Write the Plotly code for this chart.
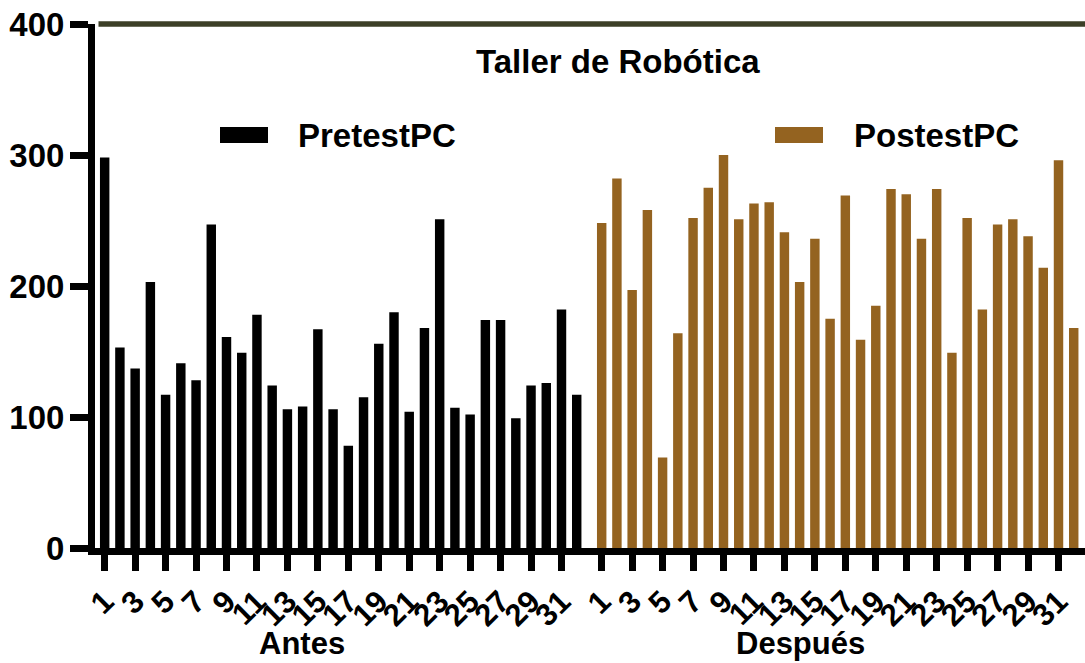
import plotly.graph_objects as go

# ---- data ----
students = list(range(1, 33))
pretest = [298, 153, 137, 203, 117, 141, 128, 247, 161, 149, 178, 124, 106, 108, 167, 106,
           78, 115, 156, 180, 104, 168, 251, 107, 102, 174, 174, 99, 124, 126, 182, 117]
postest = [248, 282, 197, 258, 69, 164, 252, 275, 300, 251, 263, 264, 241, 203, 236, 175,
           269, 159, 185, 274, 270, 236, 274, 149, 252, 182, 247, 251, 238, 214, 296, 168]
series_names = ["PretestPC", "PostestPC"]
group_labels = ["Antes", "Después"]
title_text = "Taller de Robótica"
y_ticks = [0, 100, 200, 300, 400]

# ---- layout helpers ----
GROUP_OFFSET = 32.64
pre_x = [s for s in students]
post_x = [s + GROUP_OFFSET for s in students]
odd = [i for i, s in enumerate(students) if s % 2 == 1]
tickvals = [pre_x[i] for i in odd] + [post_x[i] for i in odd]
ticktext = [str(students[i]) for i in odd] * 2

BLACK = "#000000"
BROWN = "#946320"
OLIVE = "#3c3f27"
FONT = "Liberation Sans, Arial, sans-serif"

fig = go.Figure()
fig.add_trace(go.Bar(x=pre_x, y=pretest, width=0.62, name=series_names[0],
                     marker=dict(color=BLACK, line=dict(width=0))))
fig.add_trace(go.Bar(x=post_x, y=postest, width=0.62, name=series_names[1],
                     marker=dict(color=BROWN, line=dict(width=0))))

W, H = 1085, 663
ML, MR, MT, MB = 95, 0, 24, 115
pw, ph = W - ML - MR, H - MT - MB


def px(xp):
    return (xp - ML) / pw


def py(yp):
    return (H - MB - yp) / ph


fig.update_layout(
    width=W, height=H,
    margin=dict(l=ML, r=MR, t=MT, b=MB, autoexpand=False),
    paper_bgcolor="white", plot_bgcolor="white",
    showlegend=False,
    font=dict(family=FONT, color=BLACK, size=28, weight="bold"),
    xaxis=dict(
        range=[1 - 0.636, 32 + GROUP_OFFSET + 0.74],
        automargin=False,
        showgrid=False, zeroline=False,
        showline=True, linecolor=BLACK, linewidth=7,
        ticks="outside", ticklen=16, tickwidth=7, tickcolor=BLACK,
        tickmode="array", tickvals=tickvals, ticktext=ticktext,
        tickangle=-45,
        tickfont=dict(family=FONT, size=31, color=BLACK, weight="bold"),
    ),
    yaxis=dict(
        range=[0, 400],
        automargin=False,
        showgrid=False, zeroline=False,
        showline=True, linecolor=BLACK, linewidth=7,
        ticks="outside", ticklen=18, tickwidth=7, tickcolor=BLACK,
        tickmode="array", tickvals=y_ticks,
        ticklabelstandoff=-1,
        tickfont=dict(family=FONT, size=33, color=BLACK, weight="bold"),
    ),
)

shapes = [
    # top reference line at 400
    dict(type="line", xref="paper", yref="paper", x0=3.5 / pw, x1=1, y0=1, y1=1,
         line=dict(color=OLIVE, width=5.5)),
    # legend swatches
    dict(type="rect", xref="paper", yref="paper", x0=px(220), x1=px(268), y0=py(143), y1=py(127),
         fillcolor=BLACK, line=dict(width=0)),
    dict(type="rect", xref="paper", yref="paper", x0=px(775), x1=px(823), y0=py(143), y1=py(127),
         fillcolor=BROWN, line=dict(width=0)),
]
fig.update_layout(shapes=shapes)

ann_font = dict(family=FONT, size=33, color=BLACK, weight="bold")
grp_font = dict(family=FONT, size=31, color=BLACK, weight="bold")
annotations = [
    dict(text=title_text, xref="paper", yref="paper", x=px(618), y=py(62),
         xanchor="center", yanchor="middle", showarrow=False, font=ann_font),
    dict(text=series_names[0], xref="paper", yref="paper", x=px(296), y=py(135),
         xanchor="left", yanchor="middle", showarrow=False, font=ann_font),
    dict(text=series_names[1], xref="paper", yref="paper", x=px(852), y=py(135),
         xanchor="left", yanchor="middle", showarrow=False, font=ann_font),
    dict(text=group_labels[0], xref="paper", yref="paper", x=px(302), y=py(643),
         xanchor="center", yanchor="middle", showarrow=False, font=grp_font),
    dict(text=group_labels[1], xref="paper", yref="paper", x=px(800), y=py(643),
         xanchor="center", yanchor="middle", showarrow=False, font=grp_font),
]
fig.update_layout(annotations=annotations)

fig.write_html("out.html",
               config={"displayModeBar": False},
               post_script="document.body.style.margin='0px';document.body.style.overflow='hidden';")
